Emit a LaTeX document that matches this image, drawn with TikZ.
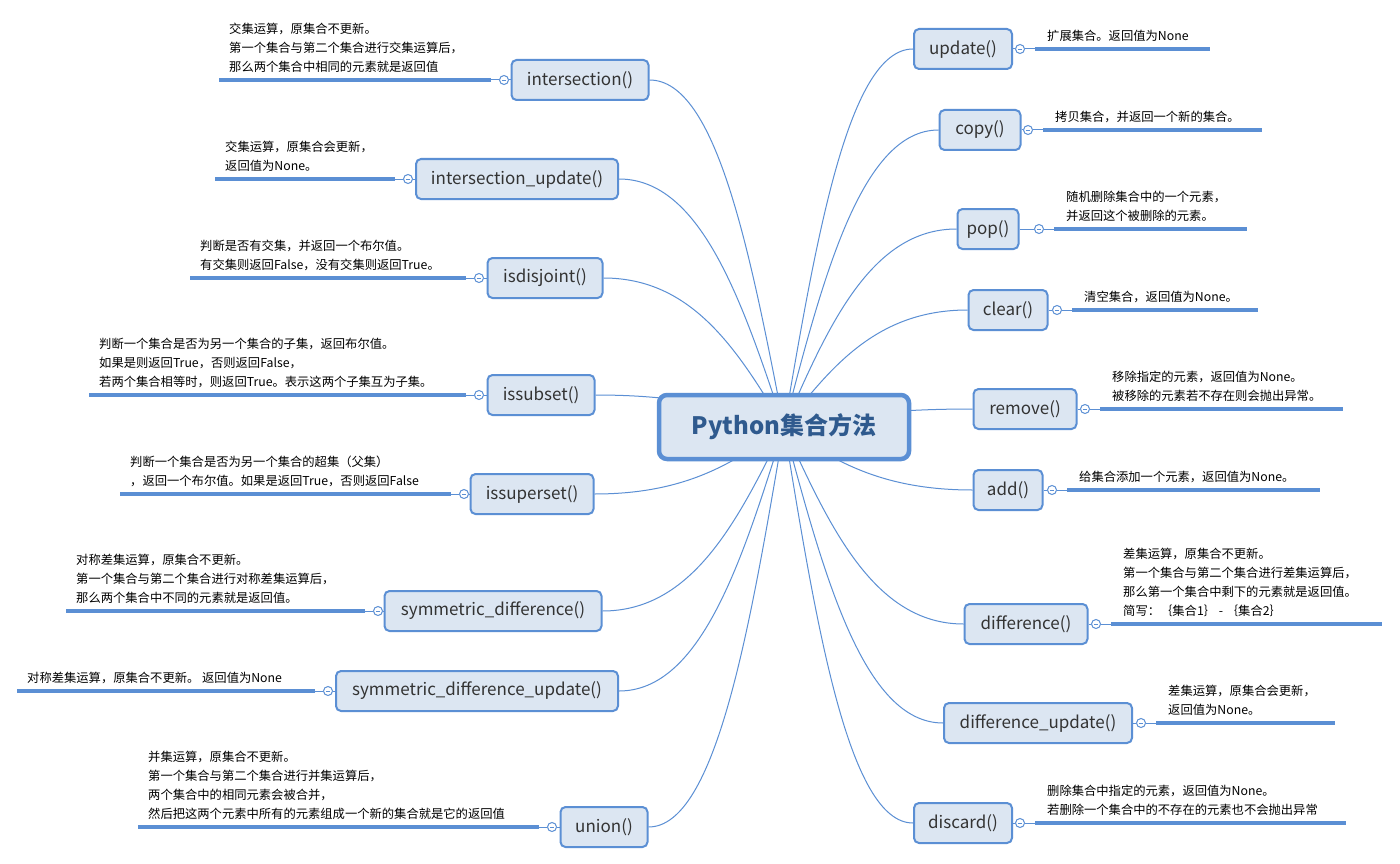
\documentclass[tikz,border=0pt]{standalone}
\usepackage{fontspec}
\setmainfont{Noto Sans CJK SC}
\usetikzlibrary{calc,backgrounds}
\definecolor{nodefill}{HTML}{DCE6F2}
\definecolor{nodeedge}{HTML}{5B8FD4}
\definecolor{linec}{HTML}{5B8FD4}
\definecolor{txt}{HTML}{333333}
\definecolor{titlec}{HTML}{2F5A8E}
\tikzset{
  sub/.style={draw=nodeedge, line width=2pt, fill=nodefill, rounded corners=5pt,
    minimum height=40pt, inner sep=0pt, font=\fontsize{17}{20}\selectfont, text=txt},
  root/.style={draw=nodeedge, line width=4.5pt, fill=nodefill, rounded corners=8pt,
    minimum width=250pt, minimum height=64pt, inner sep=0pt,
    font=\fontsize{24}{28}\selectfont\bfseries, text=titlec},
  note/.style={align=left, inner sep=0pt, anchor=south west,
    font=\fontsize{12.3}{19}\selectfont, text=black},
  knob/.style={circle, draw=linec, fill=white, line width=1pt, minimum size=9pt, inner sep=0pt,
    path picture={\draw[linec, line width=0.8pt]
      ($(path picture bounding box.west)!0.25!(path picture bounding box.east)$) --
      ($(path picture bounding box.east)!0.25!(path picture bounding box.west)$);}},
  conn/.style={draw=linec, line width=1pt},
  ul/.style={draw=linec, line width=3.5pt},
}
% left branch: name, cx, y, width, label, knob x, line left x, text
\newcommand\lbr[8]{%
  \node[sub, minimum width=#4pt] (#1) at (#2,#3) {#5};
  \node[knob] (#1k) at (#6,#3) {};
  \coordinate (#1a) at (#7,#3);
  \coordinate (#1b) at (#6-13,#3);
  \draw[conn] (#1.west) -- (#1k);
  \draw[conn] (#1k) -- (#1b);
  \draw[ul] (#1b) -- (#1a);
  \node[note] (#1t) at (#7+10,#3-7) {#8};
}
% right branch: name, cx, y, width, label, knob x, line right x, text
\newcommand\rbr[8]{%
  \node[sub, minimum width=#4pt] (#1) at (#2,#3) {#5};
  \node[knob] (#1k) at (#6,#3) {};
  \coordinate (#1a) at (#6+15,#3);
  \coordinate (#1b) at (#7,#3);
  \draw[conn] (#1.east) -- (#1k);
  \draw[conn] (#1k) -- (#1a);
  \draw[ul] (#1a) -- (#1b);
  \node[note] (#1t) at (#6+27,#3-7) {#8};
}
\newcommand\curveto[1]{%
  \draw[conn] let \p1=(root.center), \p2=(#1) in
    (\p1) .. controls ({\x1+0.25*(\x2-\x1)},{\y1+0.5*(\y2-\y1)})
      and ({\x1+0.5*(\x2-\x1)},{\y2}) .. (\p2);
}
\begin{document}
\begin{tikzpicture}[x=1pt,y=-1pt]
\useasboundingbox (0,0) rectangle (1400,864);
\node[root] (root) at (784,427) {Python集合方法};

\lbr{l1}{580}{80}{137}{intersection()}{504}{219}{交集运算，原集合不更新。\\第一个集合与第二个集合进行交集运算后，\\那么两个集合中相同的元素就是返回值}
\lbr{l2}{517}{179}{202}{intersection\_update()}{408}{215}{交集运算，原集合会更新，\\返回值为None。}
\lbr{l3}{545}{278}{115}{isdisjoint()}{479}{190}{判断是否有交集，并返回一个布尔值。\\有交集则返回False，没有交集则返回True。}
\lbr{l4}{541}{395}{107}{issubset()}{479}{89}{判断一个集合是否为另一个集合的子集，返回布尔值。\\如果是则返回True，否则返回False，\\若两个集合相等时，则返回True。表示这两个子集互为子集。}
\lbr{l5}{532}{494}{123}{issuperset()}{464}{120}{判断一个集合是否为另一个集合的超集（父集）\\，返回一个布尔值。如果是返回True，否则返回False}
\lbr{l6}{493}{611}{217}{symmetric\_difference()}{378}{66}{对称差集运算，原集合不更新。\\第一个集合与第二个集合进行对称差集运算后，\\那么两个集合中不同的元素就是返回值。}
\lbr{l7}{477}{691}{282}{symmetric\_difference\_update()}{328}{17}{对称差集运算，原集合不更新。 返回值为None}
\lbr{l8}{604}{827}{87}{union()}{552}{138}{并集运算，原集合不更新。\\第一个集合与第二个集合进行并集运算后，\\两个集合中的相同元素会被合并，\\然后把这两个元素中所有的元素组成一个新的集合就是它的返回值}

\rbr{r1}{963}{49}{98}{update()}{1020}{1210}{扩展集合。返回值为None}
\rbr{r2}{980}{130}{81}{copy()}{1028}{1262}{拷贝集合，并返回一个新的集合。}
\rbr{r3}{988}{229}{61}{pop()}{1039}{1247}{随机删除集合中的一个元素，\\并返回这个被删除的元素。}
\rbr{r4}{1008}{310}{79}{clear()}{1057}{1258}{清空集合，返回值为None。}
\rbr{r5}{1025}{409}{103}{remove()}{1085}{1343}{移除指定的元素，返回值为None。\\被移除的元素若不存在则会抛出异常。}
\rbr{r6}{1008}{490}{69}{add()}{1052}{1320}{给集合添加一个元素，返回值为None。}
\rbr{r7}{1026}{624}{123}{difference()}{1096}{1382}{差集运算，原集合不更新。\\第一个集合与第二个集合进行差集运算后，\\那么第一个集合中剩下的元素就是返回值。\\简写：｛集合1｝ - ｛集合2｝}
\rbr{r8}{1038}{723}{188}{difference\_update()}{1141}{1335}{差集运算，原集合会更新，\\返回值为None。}
\rbr{r9}{963}{823}{98}{discard()}{1020}{1346}{删除集合中指定的元素，返回值为None。\\若删除一个集合中的不存在的元素也不会抛出异常}

\begin{scope}[on background layer]
  \fill[white] (0,0) rectangle (1400,864);
  \foreach \nm in {l1,l2,l3,l4,l5,l6,l7,l8} {\curveto{\nm.east}}
  \foreach \nm in {r1,r2,r3,r4,r5,r6,r7,r8,r9} {\curveto{\nm.west}}
\end{scope}
\end{tikzpicture}
\end{document}
